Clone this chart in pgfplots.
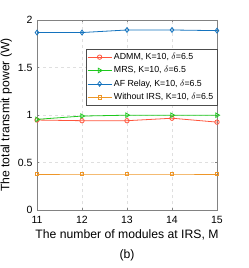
\documentclass[border=0pt]{standalone}
\usepackage{pgfplots}
\pgfplotsset{compat=1.18}
\usepackage{fontspec}
\setmainfont{Liberation Sans}
\definecolor{cadmm}{RGB}{255,85,60}
\definecolor{cmrs}{RGB}{30,200,30}
\definecolor{caf}{RGB}{20,115,190}
\definecolor{cwo}{RGB}{238,150,40}
\definecolor{axgray}{RGB}{130,130,130}
\begin{document}
\begin{tikzpicture}
\path[use as bounding box] (-37pt,-58pt) rectangle (212pt,210pt);
\begin{axis}[
  name=ax,
  at={(0pt,0pt)}, anchor=south west,
  scale only axis,
  width=180pt, height=190pt,
  xmin=11, xmax=15, ymin=0, ymax=2,
  xtick={11,12,13,14,15},
  ytick={0,0.5,1,1.5,2},
  yticklabels={0,0.5,1,1.5,2},
  tick align=inside,
  major tick length=2pt,
  axis line style={axgray},
  tick style={axgray},
  grid=major,
  grid style={dashed, gray!25},
  ticklabel style={font=\fontsize{10.5}{12}\selectfont},
  xticklabel style={yshift=-2.5pt},
  yticklabel style={xshift=-1pt},
  /pgf/number format/assume math mode=true,
  xlabel={The number of modules at IRS, M},
  ylabel={The total transmit power (W)},
  label style={font=\fontsize{12.2}{14}\selectfont},
  xlabel style={yshift=1pt},
  ylabel style={yshift=-1pt},
  legend style={font=\fontsize{8.8}{10}\selectfont, at={(1,0.847)}, anchor=north east,
    draw=black!70, row sep=1.6pt, inner sep=1.5pt, inner ysep=2pt},
  legend cell align=left,
  every axis plot/.append style={line width=0.8pt},
  legend image code/.code={\draw[mark repeat=2,mark phase=2] plot coordinates {(0cm,0cm) (0.42cm,0cm) (0.84cm,0cm)};},
]
\addplot[cadmm, mark=o, mark size=2.2pt] coordinates {(11,0.947) (12,0.940) (13,0.940) (14,0.966) (15,0.925)};
\addlegendentry{ADMM, K=10, $\delta$=6.5}
\addplot[cmrs, mark=triangle, mark options={rotate=-90}, mark size=2.6pt] coordinates {(11,0.954) (12,0.989) (13,0.998) (14,0.998) (15,0.998)};
\addlegendentry{MRS, K=10, $\delta$=6.5}
\addplot[caf, mark=diamond, mark size=2.4pt] coordinates {(11,1.868) (12,1.868) (13,1.895) (14,1.895) (15,1.888)};
\addlegendentry{AF Relay, K=10, $\delta$=6.5}
\addplot[cwo, mark=square, mark size=1.7pt] coordinates {(11,0.379) (12,0.379) (13,0.379) (14,0.379) (15,0.379)};
\addlegendentry{Without IRS, K=10, $\delta$=6.5}
\end{axis}
\node[font=\fontsize{12.2}{14}\selectfont] at (90pt,-45pt) {(b)};
\end{tikzpicture}
\end{document}
